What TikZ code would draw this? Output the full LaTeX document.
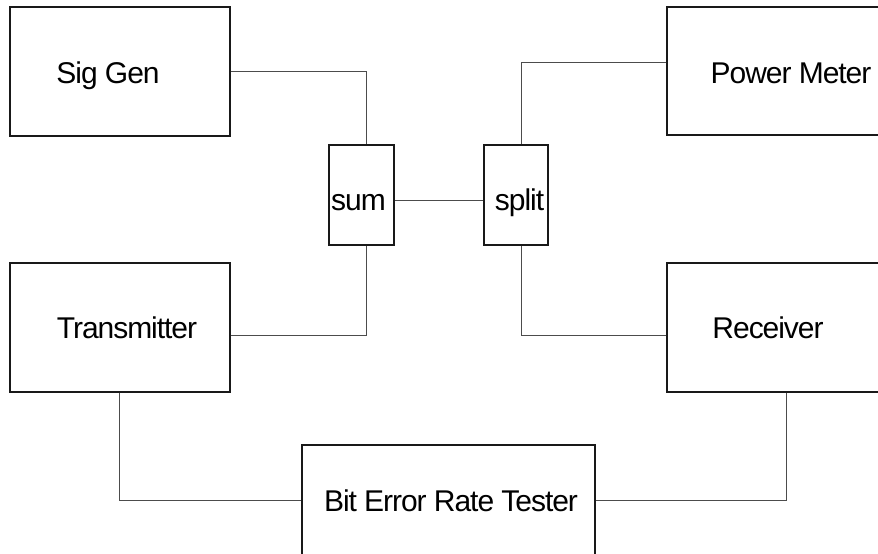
\documentclass[tikz,border=0pt]{standalone}
\usepackage{fontspec}
\setmainfont[LetterSpace=-3.5]{Liberation Sans}
\usepackage{tikz}

\begin{document}
\begin{tikzpicture}[x=1pt,y=-1pt,
        box/.style={draw=black!90,line width=1.1pt,inner sep=0pt},
        lbl/.style={inner sep=0pt,text height=21.5pt,text depth=0pt,
          font=\fontsize{30}{31}\selectfont},
        wire/.style={draw=black!70,line width=1pt}]
        \useasboundingbox (0,0) rectangle (878,554);
        \node[box,minimum width=220,minimum height=129,
          label={[lbl,xshift=-12,yshift=-1]center:Sig Gen}] (siggen) at (120,71.5) {};
        \node[box,minimum width=238,minimum height=128,
          label={[lbl,xshift=5,yshift=-1.5]center:Power Meter}] (pwrmeter) at (786,71) {};
        \node[box,minimum width=65,minimum height=100,
          label={[lbl,xshift=-3,yshift=-4.6]center:sum}] (sum) at (361.5,195) {};
        \node[box,minimum width=64,minimum height=100,
          label={[lbl,xshift=3.5,yshift=-4.6]center:split}] (split) at (516,195) {};
        \node[box,minimum width=220,minimum height=129,
          label={[lbl,xshift=7]center:Transmitter}] (tx) at (120,327.5) {};
        \node[box,minimum width=238,minimum height=129,
          label={[lbl,xshift=-18]center:Receiver}] (rx) at (786,327.5) {};
        \node[box,minimum width=293,minimum height=129,
          label={[lbl,xshift=2.5,yshift=9]center:Bit Error Rate Tester}] (bert) at (448.5,509.5) {};
        \draw[wire] (siggen.east) -| ([xshift=4.5]sum.north);
        \draw[wire] ([yshift=-7.5]tx.east) -| ([xshift=4.5]sum.south);
        \draw[wire] ([yshift=-5]sum.east) -- ([yshift=-5]split.west);
        \draw[wire] ([yshift=9]pwrmeter.west) -| ([xshift=5.7]split.north);
        \draw[wire] ([yshift=-7.5]rx.west) -| ([xshift=5.7]split.south);
        \draw[wire] ([xshift=-1]tx.south) |- ([yshift=9.5]bert.west);
        \draw[wire] (rx.south) |- ([yshift=9.5]bert.east);
\end{tikzpicture}
\end{document}
